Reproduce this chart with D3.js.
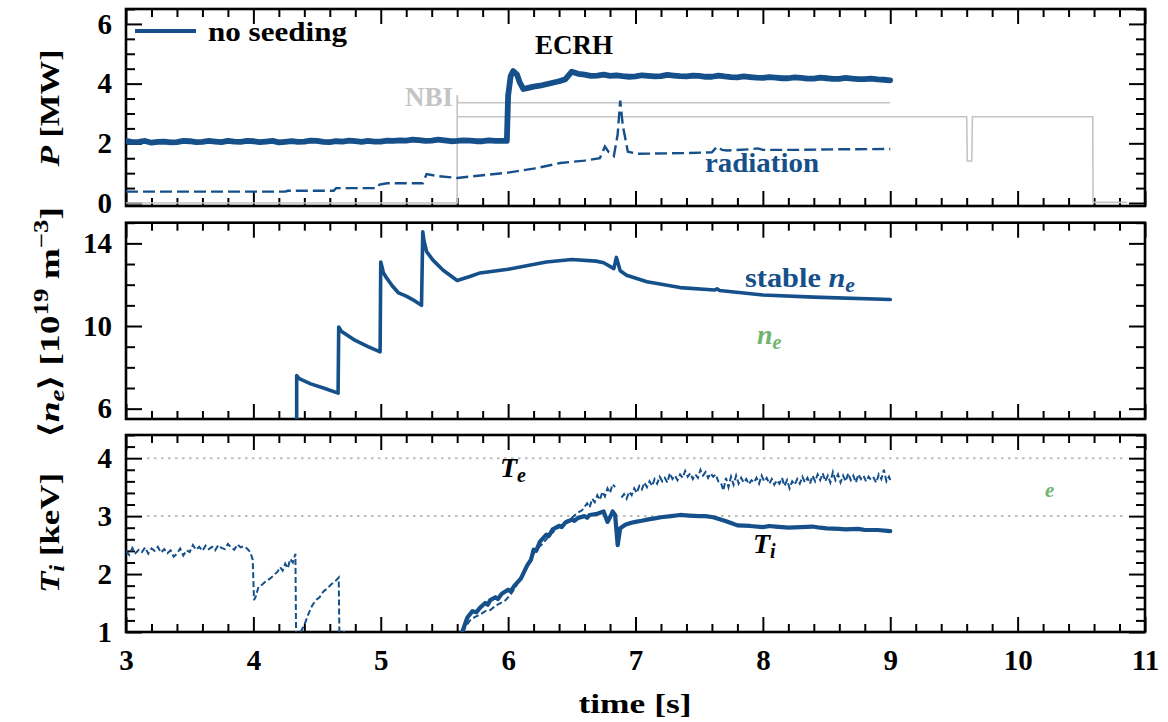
<!DOCTYPE html>
<html><head><meta charset="utf-8">
<script src="https://cdn.jsdelivr.net/npm/d3@7"></script>
<style>
body{margin:0;background:#fff}
svg{display:block}
text{font-family:"Liberation Serif","Times New Roman",serif;font-weight:bold}
</style>
</head><body>
<svg id="c" width="1168" height="722"></svg>
<script>
// ---------------- data ----------------
const xTicks = [3,4,5,6,7,8,9,10,11];
const yTicksP = [0,2,4,6];
const yTicksNe = [6,10,14];
const yTicksT = [1,2,3,4];

// ECRH power [MW]
const ecrh = [[3.0,2.08],[3.05,2.04],[3.1,2.05],[3.15,2.08],[3.2,2.02],[3.25,2.05],[3.3,2.06],[3.35,2.03],[3.4,2.04],[3.45,2.08],[3.5,2.07],[3.55,2.04],[3.6,2.05],[3.65,2.08],[3.7,2.06],[3.75,2.04],[3.8,2.08],[3.85,2.06],[3.9,2.05],[3.95,2.08],
[4.0,2.07],[4.05,2.04],[4.1,2.06],[4.15,2.08],[4.2,2.03],[4.25,2.05],[4.3,2.07],[4.35,2.05],[4.4,2.06],[4.45,2.09],[4.5,2.08],[4.55,2.05],[4.6,2.04],[4.65,2.07],[4.7,2.06],[4.75,2.09],[4.8,2.07],[4.85,2.05],[4.9,2.08],[4.95,2.06],
[5.0,2.06],[5.05,2.09],[5.1,2.08],[5.15,2.1],[5.2,2.09],[5.25,2.12],[5.3,2.11],[5.35,2.08],[5.4,2.09],[5.45,2.12],[5.5,2.1],[5.55,2.07],[5.6,2.08],[5.65,2.1],[5.7,2.09],[5.75,2.07],[5.8,2.07],[5.85,2.1],[5.9,2.08],[5.99,2.08],
[6.0,3.6],[6.02,4.25],[6.04,4.42],[6.07,4.3],[6.09,4.05],[6.12,3.82],[6.15,3.85],[6.2,3.9],[6.25,3.93],[6.3,3.98],[6.35,4.03],
[6.4,4.08],[6.45,4.15],[6.5,4.4],[6.55,4.33],[6.6,4.3],[6.65,4.26],[6.7,4.27],[6.75,4.3],[6.8,4.26],[6.85,4.28],[6.9,4.25],[6.95,4.23],[7.0,4.24],[7.05,4.28],[7.1,4.26],[7.15,4.24],[7.2,4.25],
[7.25,4.29],[7.3,4.27],[7.35,4.25],[7.4,4.24],[7.45,4.27],[7.5,4.26],[7.55,4.23],[7.6,4.23],[7.65,4.27],[7.7,4.24],[7.75,4.22],[7.8,4.21],[7.85,4.24],[7.9,4.22],[7.95,4.2],[8.0,4.19],[8.05,4.22],[8.1,4.2],[8.15,4.18],[8.2,4.18],[8.25,4.21],[8.3,4.19],
[8.35,4.17],[8.4,4.17],[8.45,4.2],[8.5,4.18],[8.55,4.16],[8.6,4.16],[8.65,4.19],[8.7,4.17],[8.75,4.15],[8.8,4.15],[8.85,4.17],[8.9,4.14],[8.95,4.13],[9.0,4.11]];

// radiated power [MW]
const radiation = [[3.0,0.38],[4.25,0.38],[4.27,0.41],[4.63,0.41],[4.65,0.50],[4.97,0.50],[4.99,0.62],[5.05,0.66],[5.33,0.66],
[5.36,0.97],[5.45,0.9],[5.6,0.84],[5.8,0.93],[6.0,1.02],[6.2,1.15],[6.41,1.34],[6.6,1.42],[6.72,1.5],[6.76,1.89],[6.79,1.7],
[6.83,1.57],[6.86,2.3],[6.88,3.43],[6.9,2.6],[6.94,1.72],[7.01,1.65],[7.37,1.67],[7.6,1.7],[7.64,1.89],[7.68,1.78],[7.72,1.76],
[7.9,1.8],[7.96,1.83],[8.0,1.78],[8.27,1.78],[8.6,1.8],[9.0,1.81]];

// NBI power [MW] (two sources)
const nbiA = [[3.0,0.0],[5.6,0.0],[5.6,3.62],[5.605,3.36],[9.0,3.36]];
const nbiB = [[5.6,2.89],[9.6,2.89],[9.605,1.41],[9.64,1.41],[9.645,2.89],[10.59,2.89],[10.592,0.02],[10.86,0.02]];

// line averaged density [1e19 m^-3]
const density = [[4.34,5.4],[4.34,7.6],[4.36,7.45],[4.45,7.2],[4.55,7.0],[4.665,6.75],[4.67,9.95],[4.69,9.75],[4.8,9.3],[4.9,9.0],
[4.995,8.75],[5.0,13.1],[5.02,12.6],[5.04,12.38],[5.09,11.95],[5.14,11.6],[5.2,11.45],[5.25,11.28],[5.32,11.0],[5.33,14.56],
[5.34,14.1],[5.36,13.6],[5.41,13.19],[5.49,12.7],[5.6,12.2],[5.7,12.4],[5.78,12.57],[6.0,12.75],[6.3,13.1],[6.5,13.22],
[6.69,13.14],[6.75,13.06],[6.83,12.78],[6.85,13.32],[6.88,12.67],[6.93,12.46],[7.09,12.14],[7.35,11.86],[7.62,11.74],
[7.64,11.8],[7.66,11.72],[8.0,11.5],[8.4,11.4],[9.0,11.28]];

// ion temperature [keV]
const ti = [[5.64,1.0],[5.68,1.25],[5.72,1.36],[5.75,1.34],[5.78,1.42],[5.82,1.5],[5.84,1.47],[5.86,1.55],[5.9,1.6],[5.92,1.57],[5.95,1.66],[6.0,1.73],[6.02,1.7],[6.05,1.8],
[6.1,1.92],[6.15,2.15],[6.18,2.25],[6.2,2.42],[6.22,2.4],[6.25,2.56],[6.3,2.68],[6.32,2.66],[6.35,2.77],[6.4,2.83],[6.42,2.81],[6.45,2.89],[6.5,2.94],[6.52,2.92],[6.55,2.97],
[6.6,3.0],[6.62,2.97],[6.64,3.02],[6.7,3.04],[6.75,3.08],[6.78,2.9],[6.8,2.98],[6.82,3.08],[6.84,3.02],[6.86,2.5],[6.88,2.79],
[6.92,2.85],[6.96,2.88],[7.0,2.9],[7.05,2.92],[7.09,2.94],[7.15,2.96],[7.2,2.98],[7.28,3.0],[7.35,3.02],[7.42,3.01],[7.5,3.0],[7.55,3.0],[7.61,2.98],[7.7,2.92],[7.75,2.88],[7.8,2.84],[7.9,2.83],
[8.0,2.81],[8.05,2.83],[8.1,2.82],[8.2,2.8],[8.3,2.81],[8.39,2.82],[8.45,2.8],[8.5,2.79],[8.6,2.78],[8.65,2.77],[8.75,2.78],[8.8,2.76],[8.9,2.76],[9.0,2.74]];

// electron temperature [keV] (null = gap)
const te = [[3.000,2.40],[3.025,2.33],[3.050,2.45],[3.075,2.36],[3.100,2.42],[3.125,2.38],[3.150,2.46],[3.175,2.35],[3.200,2.44],[3.225,2.40],
[3.250,2.47],[3.275,2.37],[3.300,2.43],[3.325,2.36],[3.350,2.41],[3.375,2.30],[3.400,2.35],[3.425,2.44],[3.450,2.32],[3.475,2.41],
[3.500,2.38],[3.525,2.50],[3.550,2.42],[3.575,2.47],[3.600,2.40],[3.625,2.49],[3.650,2.43],[3.675,2.47],[3.700,2.41],[3.725,2.50],
[3.750,2.45],[3.775,2.43],[3.800,2.52],[3.825,2.46],[3.850,2.42],[3.875,2.51],[3.900,2.46],[3.925,2.48],[3.950,2.44],[3.975,2.38],
[3.995,2.25],[4.005,1.55],[4.02,1.62],[4.04,1.78],[4.07,1.82],[4.10,1.88],[4.13,1.92],[4.16,1.98],[4.19,2.04],[4.21,2.12],
[4.23,2.06],[4.25,2.18],[4.27,2.1],[4.29,2.26],[4.31,2.2],[4.33,2.35],[4.335,1.0],[4.35,null],
[4.37,1.0],[4.40,1.12],[4.43,1.3],[4.46,1.45],[4.49,1.55],[4.52,1.6],[4.55,1.7],[4.58,1.75],[4.61,1.82],[4.64,1.87],
[4.67,1.94],[4.675,1.0],[4.72,1.0],[5.0,null],
[5.64,1.0],[5.67,1.1],[5.7,1.2],[5.74,1.26],[5.78,1.3],[5.82,1.36],[5.86,1.38],[5.9,1.45],[5.94,1.5],[5.98,1.55],
[6.02,1.65],[6.06,1.78],[6.1,1.95],[6.14,2.1],[6.18,2.28],[6.22,2.42],[6.26,2.5],[6.3,2.6],[6.34,2.7],[6.38,2.78],
[6.42,2.85],[6.46,2.92],[6.5,2.97],[6.54,3.05],[6.58,3.1],[6.62,3.22],[6.64,3.15],[6.66,3.3],[6.68,3.24],[6.7,3.36],
[6.72,3.28],[6.74,3.42],[6.76,3.34],[6.78,3.48],[6.8,3.4],[6.82,3.55],[6.84,3.5],[6.86,null],
[6.89,3.32],[6.91,3.38],[6.93,3.3],[6.95,3.42],[6.97,3.36],[6.99,3.48],[7.01,3.4],[7.03,3.52],[7.05,3.46],[7.07,3.58],
[7.09,3.5],[7.11,3.6],[7.13,3.52],[7.15,3.64],[7.17,3.56],[7.19,3.68],[7.21,3.6],[7.23,3.66],[7.25,3.58],[7.27,3.74],
[7.29,3.64],[7.31,3.7],[7.33,3.62],[7.35,3.72],[7.37,3.66],[7.39,3.78],[7.41,3.68],[7.43,3.74],[7.45,3.64],[7.47,3.72],
[7.49,3.66],[7.51,3.8],[7.53,3.7],[7.55,3.76],[7.57,3.66],[7.59,3.74],[7.61,3.68],[7.63,3.72],[7.65,3.6],[7.67,3.58],
[7.69,3.44],[7.71,3.66],[7.73,3.5],[7.75,3.68],[7.77,3.54],[7.79,3.7],[7.81,3.56],[7.83,3.66],[7.85,3.58],[7.87,3.64],
[7.89,3.55],[7.91,3.62],[7.93,3.58],[7.95,3.66],[7.97,3.56],[7.99,3.7],[8.01,3.6],[8.03,3.66],[8.05,3.56],[8.07,3.64],
[8.09,3.54],[8.11,3.62],[8.13,3.56],[8.15,3.66],[8.17,3.52],[8.19,3.62],[8.21,3.48],[8.23,3.6],[8.25,3.54],[8.27,3.64],
[8.29,3.56],[8.31,3.68],[8.33,3.58],[8.35,3.66],[8.37,3.56],[8.39,3.7],[8.41,3.6],[8.43,3.72],[8.45,3.62],[8.47,3.74],
[8.49,3.6],[8.51,3.7],[8.53,3.58],[8.55,3.76],[8.57,3.62],[8.59,3.72],[8.61,3.58],[8.63,3.7],[8.65,3.6],[8.67,3.74],
[8.69,3.62],[8.71,3.7],[8.73,3.58],[8.75,3.72],[8.77,3.64],[8.79,3.7],[8.81,3.6],[8.83,3.68],[8.85,3.62],[8.87,3.66],
[8.89,3.58],[8.91,3.72],[8.93,3.64],[8.95,3.8],[8.97,3.6],[8.99,3.68],[9.0,3.62]];

// dotted reference levels in the temperature panel
const refLevels = [3,4];
const refSpan = [3.165,10.86];

// ---------------- styles ----------------
const BLUE = "#15508a", GREEN = "#72b46e", GRAY = "#c4c4c4", DOTGRAY = "#bdbdbd";

const svg = d3.select("#c");
const x = d3.scaleLinear().domain([3,11]).range([126,1145]);

const panels = {
  P:  {top:9,     bottom:206, domain:[-0.1,6.5], major:yTicksP,  minorStep:0.5},
  ne: {top:222.7, bottom:419, domain:[5.5,15],   major:yTicksNe, minorStep:1},
  T:  {top:435,   bottom:632, domain:[1,4.4],    major:yTicksT,  minorStep:0.2}
};
Object.entries(panels).forEach(([k,p])=>{
  p.y = d3.scaleLinear().domain(p.domain).range([p.bottom,p.top]);
  p.minor = d3.range(Math.ceil(p.domain[0]/p.minorStep)*p.minorStep, p.domain[1]+1e-9, p.minorStep)
              .map(v=>+v.toFixed(3)).filter(v=>!p.major.some(m=>Math.abs(m-v)<1e-6));
  const cid = "clip-"+k;
  svg.append("clipPath").attr("id",cid).append("rect")
    .attr("x",x.range()[0]).attr("y",p.top).attr("width",x.range()[1]-x.range()[0]).attr("height",p.bottom-p.top);
  p.g = svg.append("g");
  p.plot = svg.append("g").attr("clip-path",`url(#${cid})`);
});
const xMinor = d3.range(3,11.0001,0.2).map(v=>+v.toFixed(2)).filter(v=>Math.abs(v-Math.round(v))>1e-6);

function styleAxis(g){
  g.select(".domain").remove();
  g.selectAll(".tick line").attr("stroke","#000").attr("stroke-width",2);
}

// axes
Object.entries(panels).forEach(([k,p])=>{
  const g = p.g;
  const isBottom = k==="T";
  g.append("g").attr("transform",`translate(0,${p.bottom})`)
    .call(d3.axisBottom(x).tickValues(xTicks).tickSize(-15).tickPadding(17).tickFormat(isBottom? d3.format("d") : ()=>""))
    .call(styleAxis);
  g.append("g").attr("transform",`translate(0,${p.bottom})`)
    .call(d3.axisBottom(x).tickValues(xMinor).tickSize(-8).tickFormat(()=>"")).call(styleAxis);
  g.append("g").attr("transform",`translate(0,${p.top})`)
    .call(d3.axisTop(x).tickValues(xTicks).tickSize(-15).tickFormat(()=>"")).call(styleAxis);
  g.append("g").attr("transform",`translate(0,${p.top})`)
    .call(d3.axisTop(x).tickValues(xMinor).tickSize(-8).tickFormat(()=>"")).call(styleAxis);
  g.append("g").attr("transform",`translate(${x.range()[0]},0)`)
    .call(d3.axisLeft(p.y).tickValues(p.major).tickSize(-16).tickPadding(14).tickFormat(d3.format("d"))).call(styleAxis);
  g.append("g").attr("transform",`translate(${x.range()[0]},0)`)
    .call(d3.axisLeft(p.y).tickValues(p.minor).tickSize(-9).tickFormat(()=>"")).call(styleAxis);
  g.append("g").attr("transform",`translate(${x.range()[1]},0)`)
    .call(d3.axisRight(p.y).tickValues(p.major).tickSize(-16).tickFormat(()=>"")).call(styleAxis);
  g.append("g").attr("transform",`translate(${x.range()[1]},0)`)
    .call(d3.axisRight(p.y).tickValues(p.minor).tickSize(-9).tickFormat(()=>"")).call(styleAxis);
  g.selectAll(".tick text").attr("font-family",'"Liberation Serif",serif').attr("font-weight","bold")
    .attr("font-size",29).attr("fill","#000");
  g.append("rect").attr("x",x.range()[0]).attr("y",p.top)
    .attr("width",x.range()[1]-x.range()[0]).attr("height",p.bottom-p.top)
    .attr("fill","none").attr("stroke","#000").attr("stroke-width",2.6);
});

function lineFor(p){
  return d3.line().defined(d=>d[1]!==null).x(d=>x(d[0])).y(d=>p.y(d[1]));
}

// --- power panel ---
const PP = panels.P;
[nbiA,nbiB].forEach(s=>{
  PP.plot.append("path").datum(s).attr("d",lineFor(PP)).attr("fill","none")
    .attr("stroke",GRAY).attr("stroke-width",1.6);
});
PP.plot.append("path").datum(radiation).attr("d",lineFor(PP)).attr("fill","none")
  .attr("stroke",BLUE).attr("stroke-width",2.4).attr("stroke-dasharray","12,5");
PP.plot.append("path").datum(ecrh).attr("d",lineFor(PP)).attr("fill","none")
  .attr("stroke",BLUE).attr("stroke-width",5.8).attr("stroke-linejoin","round").attr("stroke-linecap","round");

// --- density panel ---
const PN = panels.ne;
PN.plot.append("path").datum(density).attr("d",lineFor(PN)).attr("fill","none")
  .attr("stroke",BLUE).attr("stroke-width",3.6).attr("stroke-linejoin","round").attr("stroke-linecap","round");

// --- temperature panel ---
const PT = panels.T;
refLevels.forEach(v=>{
  PT.plot.append("line").attr("x1",x(refSpan[0])).attr("x2",x(refSpan[1]))
    .attr("y1",PT.y(v)).attr("y2",PT.y(v))
    .attr("stroke",DOTGRAY).attr("stroke-width",2).attr("stroke-dasharray","2.5,4.5");
});
PT.plot.append("path").datum(te).attr("d",lineFor(PT)).attr("fill","none")
  .attr("stroke",BLUE).attr("stroke-width",2).attr("stroke-dasharray","6,3");
PT.plot.append("path").datum(ti).attr("d",lineFor(PT)).attr("fill","none")
  .attr("stroke",BLUE).attr("stroke-width",4.2).attr("stroke-linejoin","round").attr("stroke-linecap","round");

// ---------------- text ----------------
function label(sel, xx, yy, fill, size, parts, len){
  const t = svg.append("text").attr("x",xx).attr("y",yy).attr("fill",fill).attr("font-size",size);
  parts.forEach(pt=>{
    const ts = t.append("tspan").text(pt.t);
    if(pt.i) ts.attr("font-style","italic");
    if(pt.s) ts.attr("font-size",pt.s);
    if(pt.dy) ts.attr("dy",pt.dy);
  });
  if(len) t.attr("textLength",len).attr("lengthAdjust","spacingAndGlyphs");
  return t;
}

// legend
svg.append("line").attr("x1",135).attr("x2",196).attr("y1",31).attr("y2",31)
  .attr("stroke",BLUE).attr("stroke-width",4);
label(svg,208,41,"#000",28,[{t:"no seeding"}],139);

label(svg,535,54,"#000",28,[{t:"ECRH"}],78);
label(svg,405,106,GRAY,28,[{t:"NBI"}],48);
label(svg,705,172,BLUE,28,[{t:"radiation"}],114);
label(svg,745,287,BLUE,28,[{t:"stable "},{t:"n",i:1},{t:"e",i:1,s:20,dy:5}],110);
label(svg,757,344,GREEN,28,[{t:"n",i:1},{t:"e",i:1,s:20,dy:5}]);
label(svg,500,477,"#000",28,[{t:"T",i:1},{t:"e",i:1,s:20,dy:5}]);
label(svg,753,553,"#000",28,[{t:"T",i:1},{t:"i",i:1,s:20,dy:5}]);
label(svg,1045,497,GREEN,21,[{t:"e",i:1}]);

// axis titles
function ylabel(cy, parts, len){
  const t = svg.append("text").attr("transform",`translate(59,${cy}) rotate(-90)`)
    .attr("text-anchor","middle").attr("font-size",28).attr("fill","#000");
  parts.forEach(pt=>{
    const ts = t.append("tspan").text(pt.t);
    if(pt.i) ts.attr("font-style","italic");
    if(pt.s) ts.attr("font-size",pt.s);
    if(pt.dy) ts.attr("dy",pt.dy);
  });
  if(len) t.attr("textLength",len).attr("lengthAdjust","spacingAndGlyphs");
}
ylabel(108,[{t:"P",i:1},{t:" [MW]"}],117);
ylabel(322,[{t:"\u27E8"},{t:"n",i:1},{t:"e",i:1,s:20,dy:5},{t:"\u27E9 [10",dy:-5},{t:"19",s:20,dy:-11},{t:" m",dy:11},{t:"\u22123",s:20,dy:-11},{t:"]",dy:11}],230);
ylabel(533,[{t:"T",i:1},{t:"i",i:1,s:20,dy:5},{t:" [keV]",dy:-5}],120);

svg.append("text").attr("x",635).attr("y",713).attr("text-anchor","middle")
  .attr("font-size",28).attr("fill","#000").text("time [s]")
  .attr("textLength",113).attr("lengthAdjust","spacingAndGlyphs");
</script>
</body></html>
